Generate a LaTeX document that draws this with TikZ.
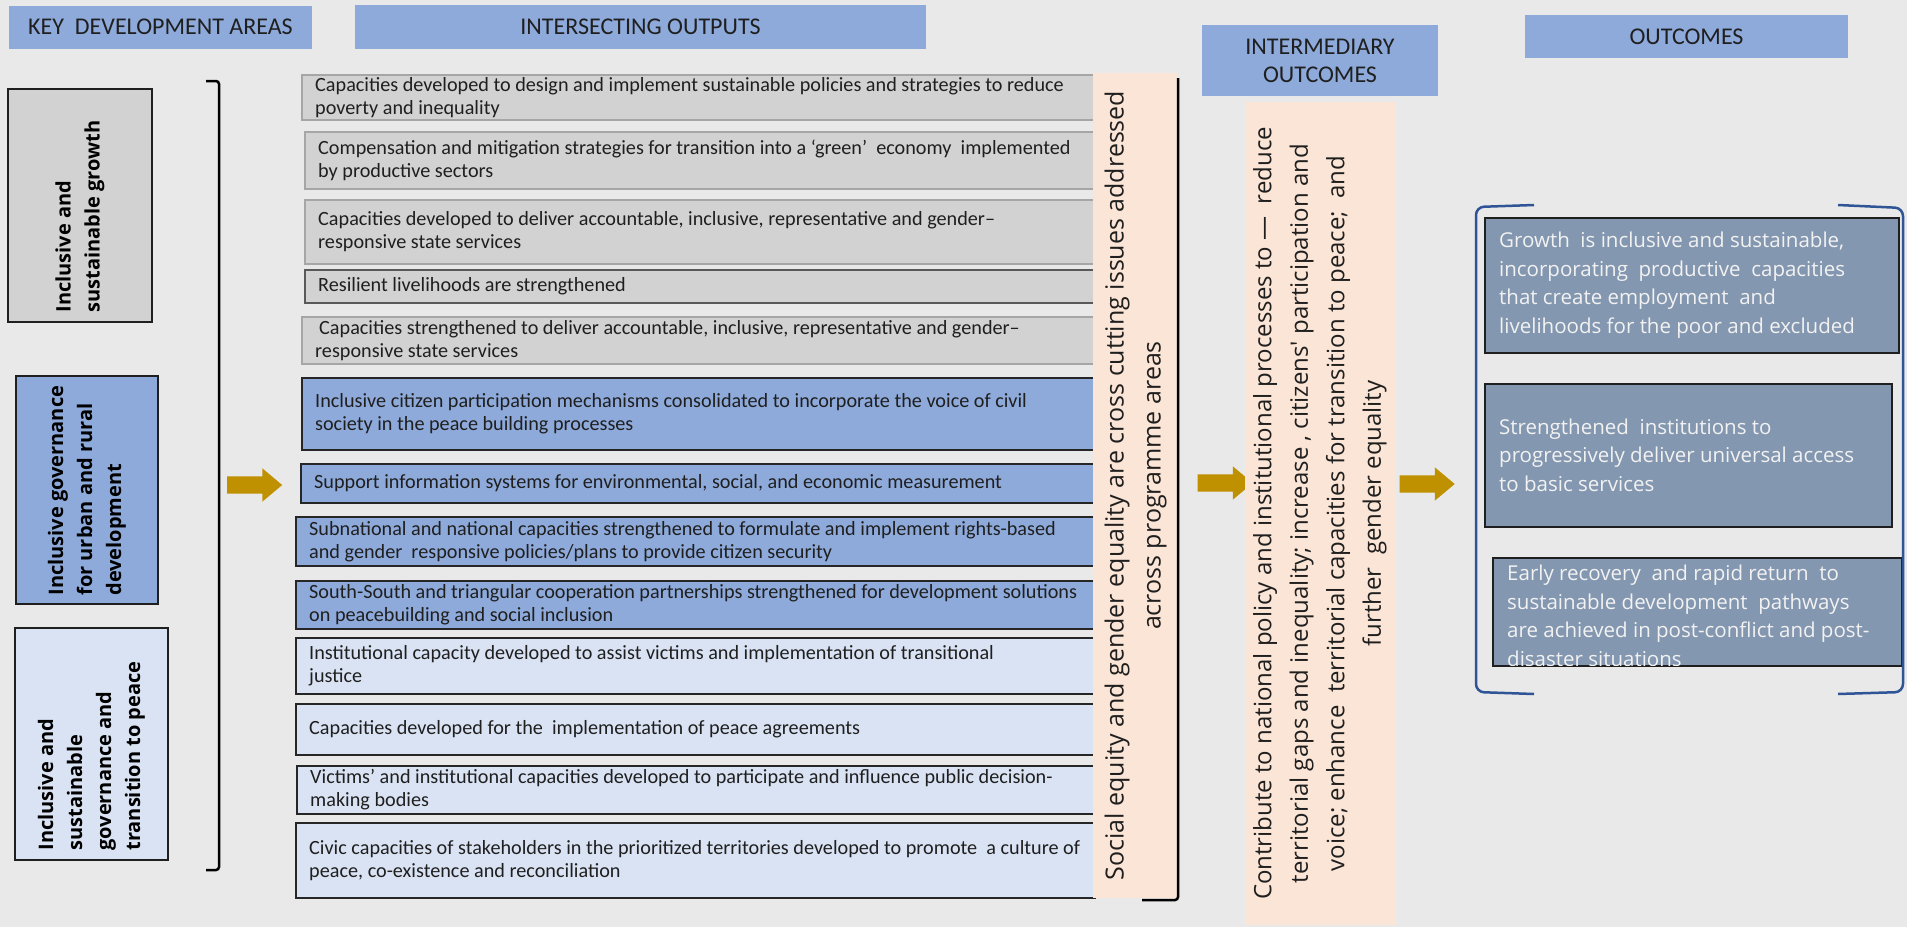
\documentclass[tikz,border=0pt]{standalone}
\usepackage{fontspec}
\setmainfont{Carlito}
\newfontfamily\opensans{Open Sans}
\usetikzlibrary{shapes.arrows}

\definecolor{backgray}{HTML}{E9E9E9}
\definecolor{headblue}{HTML}{8EAADB}
\definecolor{areagray}{HTML}{D2D2D2}
\definecolor{arealight}{HTML}{DAE3F3}
\definecolor{peach}{HTML}{FBE5D6}
\definecolor{gold}{HTML}{BF9000}
\definecolor{slate}{HTML}{8497B0}
\definecolor{navy}{HTML}{2F5597}
\definecolor{inkdark}{HTML}{1F1F1F}

\tikzset{
  header/.style={fill=headblue, inner sep=0pt, align=center, text=inkdark,
    font=\fontsize{24}{28}\selectfont},
  area/.style={draw=inkdark, line width=1.5pt, rotate=90, inner sep=0pt},
  areatext/.style={rotate=90, anchor=west, inner sep=0pt, align=left, text=black,
    font=\opensans\bfseries\fontsize{20}{29}\selectfont},
  outbox/.style={anchor=north west, inner sep=0pt, line width=1.5pt},
  graybox/.style={outbox, fill=areagray, draw=black!35},
  grayboxdark/.style={outbox, fill=areagray, draw=black!65},
  bluebox/.style={outbox, fill=headblue, draw=black!85},
  lightbox/.style={outbox, fill=arealight, draw=black!85},
  outtext/.style={anchor=west, inner sep=0pt, align=left, text=inkdark,
    font=\fontsize{20.2}{23}\selectfont},
  strip/.style={fill=peach, rotate=90, inner sep=0pt, align=center, text=inkdark},
  goal/.style={anchor=north west, fill=slate, draw=inkdark, line width=1.5pt, inner sep=0pt},
  goaltext/.style={anchor=west, inner sep=0pt, align=left, text=black!5,
    font=\opensans\fontsize{20.5}{28.6}\selectfont},
  goldarrow/.style={single arrow, fill=gold, draw=none, minimum height=55pt,
    inner xsep=0pt, inner ysep=8.5pt, text height=0pt, text depth=0pt,
    single arrow head extend=8pt, single arrow tip angle=80},
  bracket/.style={line width=2.5pt, rounded corners=3pt},
}

\begin{document}
\begin{tikzpicture}[x=1pt,y=-1pt]
  \useasboundingbox (0,0) rectangle (1907,927);
  \fill[backgray] (0,0) rectangle (1907,927);

  % column headings
  \node[header, minimum width=303, minimum height=43] (hkey) at (160.5,27) {KEY\ \ DEVELOPMENT AREAS};
  \node[header, minimum width=571, minimum height=44] (hout) at (640.5,27) {INTERSECTING OUTPUTS};
  \node[header, minimum width=236, minimum height=71] (hmid) at (1320,60.5) {INTERMEDIARY\\OUTCOMES};
  \node[header, minimum width=323, minimum height=43] (hend) at (1686.5,36.5) {OUTCOMES};

  % key development areas
  \node[area, fill=areagray, minimum width=233, minimum height=144] (growth) at (80,205.5) {};
  \node[area, fill=headblue, minimum width=228, minimum height=142] (urban) at (87,490) {};
  \node[area, fill=arealight, minimum width=232, minimum height=153] (peace) at (91.5,744) {};
  \node[areatext] (growthtext) at ([yshift=10pt]growth.west) {Inclusive and\\sustainable growth};
  \node[areatext] (urbantext) at ([yshift=9pt]urban.west) {Inclusive governance\\for urban and rural\\development};
  \node[areatext] (peacetext) at ([yshift=10pt]peace.west) {Inclusive and\\sustainable\\governance and\\transition to peace};
  \draw[bracket] (206,81) -- (219,81) -- (219,870) -- (206,870);

  % block arrows between columns
  \node[goldarrow] (arrin) at (249.5,485) {};
  \node[goldarrow] (arrmid) at (1220,483) {};
  \node[goldarrow] (arrout) at (1422,484) {};

  % intersecting outputs: boxes
  \foreach \n/\xl/\yt/\yb/\kind in {1/301/74/119/graybox, 2/304/131/188/graybox,
      3/304/199/263/graybox, 4/304/269/302/grayboxdark, 5/301/316/363/graybox,
      6/301/377/449/bluebox, 7/300/463/502/bluebox, 8/295/516/565/bluebox,
      9/295/580/628/bluebox, 10/295/637/693/lightbox, 11/295/703/754/lightbox,
      12/296/765/813/lightbox, 13/295/822/897/lightbox}
    \node[\kind, minimum width={1094-\xl}, minimum height={\yb-\yt}] (o\n) at (\xl,\yt) {};

  % intersecting outputs: texts
  \node[outtext] (t1) at ([xshift=14pt]o1.west) {Capacities developed to design and implement sustainable policies and strategies to reduce\\poverty and inequality};
  \node[outtext] (t2) at ([xshift=14pt]o2.west) {Compensation and mitigation strategies for transition into a ‘green’\ \ economy\ \ implemented\\by productive sectors};
  \node[outtext] (t3) at ([xshift=14pt]o3.west) {Capacities developed to deliver accountable, inclusive, representative and gender–\\responsive state services};
  \node[outtext] (t4) at ([xshift=14pt]o4.west) {Resilient livelihoods are strengthened};
  \node[outtext] (t5) at ([xshift=14pt]o5.west) {\hspace{4pt}Capacities strengthened to deliver accountable, inclusive, representative and gender–\\responsive state services};
  \node[outtext] (t6) at ([xshift=14pt]o6.west) {Inclusive citizen participation mechanisms consolidated to incorporate the voice of civil\\society in the peace building processes};
  \node[outtext] (t7) at ([xshift=14pt]o7.west) {Support information systems for environmental, social, and economic measurement};
  \node[outtext] (t8) at ([xshift=14pt]o8.west) {Subnational and national capacities strengthened to formulate and implement rights-based\\and gender\ \ responsive policies/plans to provide citizen security};
  \node[outtext] (t9) at ([xshift=14pt]o9.west) {South-South and triangular cooperation partnerships strengthened for development solutions\\on peacebuilding and social inclusion};
  \node[outtext] (t10) at ([xshift=14pt]o10.west) {Institutional capacity developed to assist victims and implementation of transitional\\justice};
  \node[outtext] (t11) at ([xshift=14pt]o11.west) {Capacities developed for the\ \ implementation of peace agreements};
  \node[outtext] (t12) at ([xshift=14pt]o12.west) {Victims’ and institutional capacities developed to participate and influence public decision-\\making bodies};
  \node[outtext] (t13) at ([xshift=14pt]o13.west) {Civic capacities of stakeholders in the prioritized territories developed to promote\ \ a culture of\\peace, co-existence and reconciliation};

  % cross cutting strip
  \node[strip, font=\opensans\fontsize{25}{37}\selectfont, minimum width=825, minimum height=85] (equity) at (1135.5,485.5)
    {Social equity and gender equality are cross cutting issues addressed\\across programme areas};
  \draw[bracket] (1178,78) -- (1178,900) -- (1142,900);

  % intermediary outcomes
  \node[strip, font=\opensans\fontsize{24}{36.5}\selectfont, minimum width=823, minimum height=150] (contrib) at (1320,513.5)
    {Contribute to national policy and institutional processes to —\ \ reduce\\territorial gaps and inequality; increase , citizens' participation and\\voice; enhance\ \ territorial capacities for transition to peace;\ \ and\\further\ \ gender equality};

  % outcomes
  \node[goal, minimum width=414, minimum height=135] (g1) at (1484,217) {};
  \node[goal, minimum width=407, minimum height=143] (g2) at (1484,383) {};
  \node[goal, minimum width=409, minimum height=108] (g3) at (1492,557) {};
  \node[goaltext] (g1text) at ([xshift=15pt]g1.west) {Growth\ \ is inclusive and sustainable,\\incorporating\ \ productive\ \ capacities\\that create employment\ \ and\\livelihoods for the poor and excluded};
  \node[goaltext] (g2text) at ([xshift=15pt]g2.west) {Strengthened\ \ institutions to\\progressively deliver universal access\\to basic services};
  \begin{scope}
    \clip (1492,557) rectangle (1901,665);
    \node[goaltext] (g3text) at ([xshift=15pt,yshift=-4pt]g3.west) {Early recovery\ \ and rapid return\ \ to\\sustainable development\ \ pathways\\are achieved in post-conflict and post-\\disaster situations};
  \end{scope}
  \draw[bracket, navy, rounded corners=8pt] (1534,205) -- (1476,207) -- (1476,692) -- (1534,694);
  \draw[bracket, navy, rounded corners=8pt] (1838,205) -- (1903,208) -- (1903,692) -- (1838,694);
\end{tikzpicture}
\end{document}
